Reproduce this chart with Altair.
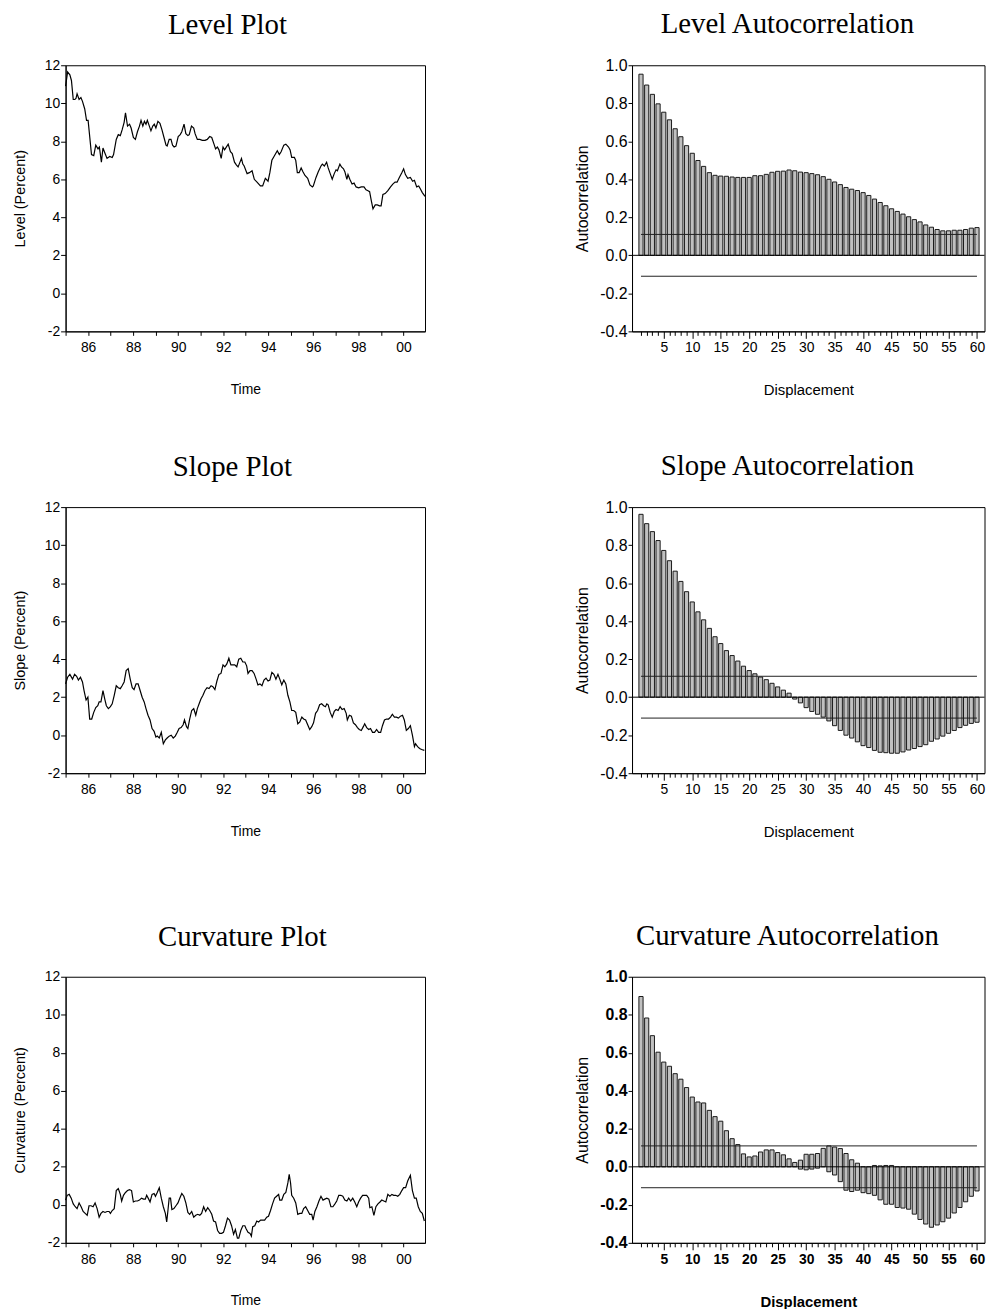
import altair as alt
import pandas as pd

# ---------------- data ----------------
# time in years since Jan 1985, values in percent
LEVEL_T = [0.00, 0.09, 0.19, 0.26, 0.34, 0.41, 0.46, 0.51, 0.60, 0.68,
           0.75, 0.85, 0.93, 1.00, 1.15, 1.25, 1.34, 1.44, 1.50, 1.59,
           1.66, 1.74, 1.84, 1.96, 2.07, 2.13, 2.25, 2.34, 2.43, 2.51,
           2.60, 2.66, 2.75, 2.84, 2.91, 3.01, 3.10, 3.19, 3.28, 3.35,
           3.43, 3.50, 3.57, 3.63, 3.72, 3.79, 3.87, 3.94, 4.01, 4.10,
           4.19, 4.28, 4.37, 4.46, 4.51, 4.60, 4.68, 4.75, 4.82, 4.90,
           5.00, 5.09, 5.16, 5.26, 5.34, 5.43, 5.49, 5.59, 5.69, 5.75,
           5.85, 5.96, 6.07, 6.19, 6.29, 6.40, 6.49, 6.59, 6.66, 6.74,
           6.81, 6.91, 6.99, 7.06, 7.22, 7.32, 7.40, 7.50, 7.59, 7.66,
           7.81, 7.87, 7.93, 8.06, 8.16, 8.28, 8.38, 8.50, 8.65, 8.75,
           8.87, 8.99, 9.07, 9.16, 9.28, 9.40, 9.49, 9.57, 9.69, 9.78,
           9.90, 9.97, 10.04, 10.16, 10.22, 10.29, 10.37, 10.46, 10.54, 10.63,
           10.75, 10.85, 10.96, 11.00, 11.12, 11.22, 11.34, 11.40, 11.49, 11.59,
           11.66, 11.75, 11.84, 11.93, 12.01, 12.07, 12.18, 12.25, 12.34, 12.40,
           12.49, 12.54, 12.62, 12.72, 12.81, 12.90, 13.01, 13.13, 13.25, 13.34,
           13.43, 13.50, 13.57, 13.65, 13.75, 13.84, 13.94, 14.01, 14.09, 14.19,
           14.31, 14.43, 14.53, 14.63, 14.72, 14.82, 14.93, 15.01, 15.09, 15.19,
           15.31, 15.41, 15.49, 15.59, 15.68, 15.75, 15.84, 15.96]
LEVEL_V = [10.9, 11.65, 11.5, 11.2, 10.2, 10.2, 10.25, 10.5, 10.2, 10.3,
           10.1, 9.7, 9.1, 9.1, 7.3, 7.25, 7.8, 7.6, 7.7, 6.9,
           7.65, 7.4, 7.1, 7.2, 7.15, 7.3, 8.1, 8.35, 8.3, 8.6,
           9.0, 9.5, 8.8, 8.9, 8.7, 8.2, 8.1, 8.5, 8.8, 9.1,
           8.8, 9.05, 8.9, 9.1, 8.8, 8.55, 8.8, 8.9, 8.7, 9.05,
           8.95, 8.6, 8.2, 7.8, 7.75, 8.1, 8.1, 7.8, 7.7, 7.75,
           8.25, 8.35, 8.5, 8.9, 8.4, 8.3, 8.35, 8.8, 8.7, 8.4,
           8.1, 8.1, 8.05, 8.05, 8.1, 8.25, 8.2, 7.85, 7.6, 7.7,
           7.55, 7.1, 7.7, 7.55, 7.85, 7.45, 7.35, 6.9, 6.75, 6.65,
           7.1, 6.8, 6.7, 6.3, 6.35, 6.45, 6.0, 5.85, 5.65, 5.65,
           6.05, 5.9, 6.35, 7.0, 7.25, 7.5, 7.3, 7.45, 7.8, 7.85,
           7.7, 7.55, 7.15, 7.15, 7.0, 6.35, 6.35, 6.6, 6.4, 6.2,
           6.05, 5.7, 5.6, 5.65, 6.1, 6.4, 6.7, 6.8, 6.7, 6.9,
           6.6, 6.3, 6.0, 6.3, 6.5, 6.45, 6.8, 6.65, 6.55, 6.4,
           6.0, 6.25, 6.0, 5.75, 5.8, 5.6, 5.55, 5.6, 5.6, 5.45,
           5.4, 5.35, 4.9, 4.45, 4.65, 4.65, 4.6, 4.6, 5.2, 5.25,
           5.4, 5.6, 5.75, 5.85, 5.85, 6.1, 6.35, 6.55, 6.25, 6.05,
           6.1, 5.9, 5.95, 5.6, 5.65, 5.5, 5.3, 5.1]

SLOPE_T = [0.00, 0.09, 0.19, 0.31, 0.40, 0.49, 0.57, 0.66, 0.75, 0.82,
           0.91, 0.99, 1.07, 1.16, 1.25, 1.34, 1.43, 1.49, 1.57, 1.66,
           1.74, 1.81, 1.90, 1.99, 2.07, 2.16, 2.25, 2.34, 2.43, 2.51,
           2.60, 2.69, 2.78, 2.87, 2.96, 3.04, 3.13, 3.22, 3.31, 3.40,
           3.49, 3.57, 3.66, 3.75, 3.84, 3.93, 4.01, 4.07, 4.16, 4.25,
           4.34, 4.43, 4.51, 4.60, 4.69, 4.78, 4.87, 4.96, 5.04, 5.13,
           5.22, 5.28, 5.37, 5.43, 5.51, 5.60, 5.69, 5.78, 5.85, 5.93,
           6.01, 6.10, 6.19, 6.28, 6.37, 6.46, 6.54, 6.63, 6.72, 6.81,
           6.90, 6.99, 7.07, 7.16, 7.25, 7.34, 7.43, 7.51, 7.60, 7.69,
           7.78, 7.87, 7.96, 8.04, 8.10, 8.19, 8.28, 8.37, 8.46, 8.54,
           8.63, 8.72, 8.81, 8.90, 8.99, 9.07, 9.16, 9.25, 9.34, 9.43,
           9.51, 9.60, 9.69, 9.78, 9.87, 9.96, 10.04, 10.13, 10.22, 10.31,
           10.40, 10.49, 10.57, 10.66, 10.75, 10.84, 10.93, 11.01, 11.10, 11.19,
           11.28, 11.37, 11.46, 11.54, 11.60, 11.66, 11.75, 11.84, 11.93, 12.01,
           12.10, 12.19, 12.28, 12.37, 12.46, 12.51, 12.60, 12.69, 12.78, 12.87,
           12.96, 13.04, 13.13, 13.22, 13.28, 13.37, 13.46, 13.54, 13.63, 13.72,
           13.81, 13.90, 13.99, 14.07, 14.16, 14.25, 14.34, 14.43, 14.51, 14.60,
           14.69, 14.78, 14.87, 14.96, 15.04, 15.13, 15.22, 15.31, 15.40, 15.49,
           15.54, 15.63, 15.72, 15.81, 15.93]
SLOPE_V = [2.7, 3.05, 3.2, 2.95, 3.2, 3.1, 2.9, 3.05, 2.8, 2.35,
           1.85, 2.0, 0.85, 0.85, 1.2, 1.45, 1.55, 1.75, 1.75, 2.35,
           1.9, 1.55, 1.4, 1.5, 1.65, 2.1, 2.6, 2.5, 2.45, 2.6,
           2.8, 3.4, 3.5, 2.95, 2.5, 2.4, 2.7, 2.7, 2.35, 2.0,
           1.75, 1.4, 1.05, 0.8, 0.35, 0.2, -0.1, -0.05, -0.15, 0.15,
           -0.45, -0.25, -0.15, -0.05, 0.0, -0.15, -0.05, 0.15, 0.35, 0.4,
           0.55, 0.8, 0.45, 0.35, 0.85, 1.3, 1.4, 1.05, 1.4, 1.65,
           1.9, 2.1, 2.35, 2.5, 2.45, 2.6, 2.55, 2.4, 2.85, 3.2,
           3.25, 3.7, 3.6, 3.75, 4.05, 3.7, 3.7, 3.7, 3.6, 4.0,
           4.05, 3.85, 3.85, 3.65, 3.25, 3.4, 3.4, 3.25, 2.95, 2.65,
           2.7, 2.6, 2.9, 3.0, 2.85, 2.9, 3.3, 3.2, 2.95, 3.2,
           2.95, 2.65, 2.9, 2.7, 2.1, 1.75, 1.3, 1.3, 1.2, 0.6,
           0.7, 0.95, 0.85, 0.8, 0.55, 0.3, 0.45, 0.65, 1.15, 1.3,
           1.6, 1.65, 1.55, 1.5, 1.65, 1.6, 1.2, 0.95, 1.25, 1.35,
           1.3, 1.5, 1.35, 1.4, 1.15, 0.8, 1.05, 1.0, 0.65, 0.55,
           0.4, 0.3, 0.25, 0.45, 0.6, 0.4, 0.3, 0.35, 0.15, 0.15,
           0.3, 0.15, 0.15, 0.5, 0.8, 0.85, 0.85, 0.95, 1.1, 0.95,
           0.95, 0.9, 1.0, 1.05, 0.8, 0.25, 0.35, 0.5, 0.0, -0.6,
           -0.45, -0.6, -0.7, -0.75, -0.8]

CURV_T = [0.00, 0.07, 0.16, 0.25, 0.34, 0.43, 0.51, 0.60, 0.69, 0.78,
          0.87, 0.96, 1.04, 1.13, 1.22, 1.31, 1.40, 1.49, 1.57, 1.66,
          1.75, 1.84, 1.93, 1.99, 2.07, 2.16, 2.25, 2.34, 2.43, 2.49,
          2.57, 2.66, 2.75, 2.84, 2.93, 3.01, 3.10, 3.19, 3.28, 3.37,
          3.46, 3.54, 3.60, 3.69, 3.75, 3.84, 3.93, 3.99, 4.07, 4.16,
          4.25, 4.34, 4.43, 4.49, 4.54, 4.60, 4.66, 4.72, 4.81, 4.90,
          4.99, 5.07, 5.16, 5.25, 5.34, 5.43, 5.51, 5.60, 5.69, 5.78,
          5.87, 5.96, 6.04, 6.13, 6.22, 6.31, 6.40, 6.49, 6.57, 6.66,
          6.75, 6.84, 6.93, 7.01, 7.10, 7.19, 7.28, 7.37, 7.46, 7.54,
          7.63, 7.69, 7.78, 7.87, 7.96, 8.01, 8.10, 8.19, 8.25, 8.31,
          8.40, 8.49, 8.57, 8.66, 8.75, 8.84, 8.93, 9.01, 9.10, 9.19,
          9.28, 9.37, 9.46, 9.51, 9.60, 9.69, 9.78, 9.87, 9.93, 9.99,
          10.04, 10.13, 10.22, 10.31, 10.40, 10.49, 10.57, 10.66, 10.75, 10.84,
          10.93, 10.99, 11.07, 11.16, 11.25, 11.34, 11.43, 11.51, 11.60, 11.69,
          11.78, 11.87, 11.96, 12.04, 12.13, 12.22, 12.31, 12.40, 12.49, 12.57,
          12.66, 12.75, 12.84, 12.93, 13.01, 13.10, 13.19, 13.28, 13.37, 13.46,
          13.51, 13.60, 13.69, 13.78, 13.87, 13.96, 14.04, 14.13, 14.22, 14.31,
          14.40, 14.49, 14.57, 14.66, 14.75, 14.84, 14.93, 15.01, 15.10, 15.19,
          15.31, 15.40, 15.49, 15.57, 15.66, 15.75, 15.84, 15.93]
CURV_V = [0.25, 0.5, 0.55, 0.35, 0.05, -0.1, -0.2, 0.1, -0.1, -0.35,
          -0.45, -0.55, -0.05, -0.05, -0.1, 0.1, -0.2, -0.65, -0.45, -0.35,
          -0.4, -0.35, -0.35, -0.45, -0.3, -0.2, 0.75, 0.85, 0.55, 0.2,
          0.5, 0.65, 0.75, 0.8, 0.75, 0.15, 0.2, 0.2, 0.25, 0.35,
          0.3, 0.3, 0.5, 0.3, 0.15, 0.55, 0.6, 0.45, 0.65, 0.9,
          0.35, -0.1, -0.45, -0.9, -0.35, 0.35, 0.35, -0.25, -0.2, -0.05,
          0.1, 0.35, 0.6, 0.45, 0.1, -0.4, -0.5, -0.35, -0.65, -0.55,
          -0.5, -0.55, -0.45, -0.1, -0.35, -0.15, -0.3, -0.5, -0.85, -0.9,
          -1.35, -1.5, -1.5, -1.45, -1.1, -0.7, -0.8, -1.1, -1.55, -1.3,
          -1.75, -1.75, -1.35, -1.1, -1.1, -1.25, -1.45, -1.5, -1.65, -1.15,
          -1.1, -0.85, -0.9, -0.8, -0.8, -0.8, -0.65, -0.6, -0.3, 0.05,
          0.35, 0.45, 0.55, 0.25, 0.25, 0.55, 0.65, 1.15, 1.6, 1.15,
          0.5, 0.35, 0.1, -0.5, -0.45, -0.45, -0.2, -0.1, -0.3, -0.5,
          -0.5, -0.8, -0.35, -0.1, 0.2, 0.45, 0.25, 0.3, 0.35, 0.3,
          -0.1, -0.1, 0.05, 0.2, 0.5, 0.5, 0.45, 0.25, 0.2, 0.35,
          0.2, 0.35, 0.15, -0.1, 0.15, 0.35, 0.5, 0.5, 0.5, 0.35,
          -0.15, -0.1, -0.55, -0.1, 0.05, 0.15, 0.25, 0.2, 0.15, 0.55,
          0.45, 0.55, 0.5, 0.5, 0.45, 0.55, 0.75, 0.9, 0.9, 1.25,
          1.55, 0.75, 0.35, 0.35, -0.1, -0.35, -0.45, -0.85]

# autocorrelations, displacements 1..60 (bar tops; bar bottoms are 0 unless listed)
LEVEL_ACF = [0.953, 0.896, 0.847, 0.797, 0.753, 0.713, 0.666, 0.624, 0.577, 0.537,
             0.499, 0.468, 0.435, 0.421, 0.417, 0.416, 0.412, 0.410, 0.410, 0.410,
             0.419, 0.419, 0.426, 0.437, 0.442, 0.443, 0.449, 0.445, 0.438, 0.435,
             0.430, 0.424, 0.414, 0.400, 0.386, 0.372, 0.357, 0.348, 0.341, 0.330,
             0.315, 0.296, 0.278, 0.261, 0.245, 0.231, 0.217, 0.203, 0.188, 0.176,
             0.160, 0.148, 0.136, 0.129, 0.129, 0.132, 0.132, 0.136, 0.143, 0.146]
SLOPE_ACF = [0.962, 0.913, 0.871, 0.824, 0.772, 0.718, 0.663, 0.609, 0.555, 0.501,
             0.449, 0.407, 0.362, 0.318, 0.282, 0.245, 0.219, 0.190, 0.163, 0.140,
             0.123, 0.106, 0.092, 0.073, 0.054, 0.037, 0.021, -0.010, -0.030, -0.055,
             -0.075, -0.090, -0.105, -0.125, -0.150, -0.175, -0.200, -0.215, -0.235, -0.255,
             -0.265, -0.280, -0.290, -0.292, -0.295, -0.295, -0.288, -0.278, -0.270, -0.260,
             -0.250, -0.232, -0.220, -0.205, -0.190, -0.175, -0.160, -0.148, -0.138, -0.132]
# curvature bars reach both sides of zero at some displacements in the picture
CURV_ACF_HI = [0.896, 0.783, 0.690, 0.603, 0.551, 0.529, 0.490, 0.461, 0.417, 0.367,
               0.341, 0.336, 0.297, 0.264, 0.240, 0.190, 0.148, 0.117, 0.068, 0.052,
               0.057, 0.078, 0.089, 0.089, 0.075, 0.063, 0.042, 0.023, 0.035, 0.066,
               0.066, 0.070, 0.097, 0.110, 0.104, 0.096, 0.070, 0.037, 0.019, 0.0,
               0.0, 0.007, 0.005, 0.007, 0.007, 0.0, 0.0, 0.0, 0.0, 0.0,
               0.0, 0.0, 0.0, 0.0, 0.0, 0.0, 0.0, 0.0, 0.0, 0.0]
CURV_ACF_LO = [0.0, 0.0, 0.0, 0.0, 0.0, 0.0, 0.0, 0.0, 0.0, 0.0,
               0.0, 0.0, 0.0, 0.0, 0.0, 0.0, 0.0, 0.0, 0.0, 0.0,
               0.0, 0.0, 0.0, 0.0, 0.0, 0.0, 0.0, 0.0, -0.012, -0.016,
               -0.012, -0.007, 0.0, -0.026, -0.043, -0.078, -0.123, -0.130, -0.123, -0.136,
               -0.141, -0.150, -0.174, -0.197, -0.197, -0.214, -0.217, -0.223, -0.249, -0.277,
               -0.301, -0.318, -0.306, -0.289, -0.270, -0.243, -0.214, -0.184, -0.155, -0.127]
BAND = 0.11

YEARS = list(range(1985, 2001))
LAGS = list(range(1, 61))
Y_TICKS = [-2, 0, 2, 4, 6, 8, 10, 12]
ACF_TICKS = [-0.4, -0.2, 0.0, 0.2, 0.4, 0.6, 0.8, 1.0]

SANS = "Liberation Sans"
SERIF = "Liberation Serif"
TIME_W, H, ACF_W = 362, 268, 355


def ttl(text, dx, off):
    return alt.TitleParams(text=text, font=SERIF, fontSize=29, fontWeight="normal",
                           color="black", anchor="middle", frame="group",
                           baseline="alphabetic", offset=off, dx=dx)


def time_panel(t, v, name, ytitle, dx):
    df = pd.DataFrame({"year": [1985 + x for x in t], "value": v})
    return alt.Chart(df, title=ttl(name, dx, -5)).mark_line(
        color="black", strokeWidth=1.2
    ).encode(
        x=alt.X("year:Q",
                scale=alt.Scale(domain=[1985, 2000.96], nice=False, zero=False),
                axis=alt.Axis(values=YEARS, tickCount=200,
                              labelExpr="datum.value % 2 === 0 ? ((datum.value % 100) < 10 ? '0' : '') + (datum.value % 100) : ''",
                              tickSize=4, labelPadding=16.5, labelBaseline="alphabetic",
                              labelFontSize=14, labelOverlap=False, title="Time", titleFontSize=14,
                              titleY=62.5, titleBaseline="alphabetic")),
        y=alt.Y("value:Q",
                scale=alt.Scale(domain=[-2, 12], nice=False, zero=False),
                axis=alt.Axis(values=Y_TICKS, tickCount=200,
                              labelExpr="datum.value < 0 ? '-' + (-datum.value) : '' + datum.value",
                              tickSize=5, labelPadding=1, labelFontSize=14, labelOverlap=False,
                              title=ytitle, titleFontSize=14.5, titleX=-41.5,
                              titleBaseline="alphabetic")),
    ).properties(width=TIME_W, height=H)


def acf_panel(tops, bottoms, name, bold=False):
    df = pd.DataFrame({"lag": LAGS, "top": tops, "bottom": bottoms})
    wt = "bold" if bold else "normal"
    xscale = alt.Scale(domain=[0.3, 60.45], nice=False, zero=False)
    yscale = alt.Scale(domain=[-0.4, 1.0], nice=False)
    bars = alt.Chart(df).mark_bar(size=4.2, fill="#c0c0c0", stroke="#1a1a1a",
                                  strokeWidth=1).encode(
        x=alt.X("lag:Q", scale=xscale,
                axis=alt.Axis(values=LAGS, tickCount=200,
                              labelExpr="datum.value % 5 === 0 ? '' + datum.value : ''",
                              tickSize={"condition": {"test": "datum.value % 5 === 0", "value": 7}, "value": 4},
                              labelPadding=13.5, labelBaseline="alphabetic", labelOverlap=False,
                              labelFontSize=14, labelFontWeight=wt,
                              title="Displacement", titleFontSize=15, titleFontWeight=wt,
                              titleY=64, titleBaseline="alphabetic")),
        y=alt.Y("top:Q", scale=yscale,
                axis=alt.Axis(values=ACF_TICKS, tickCount=200,
                              labelExpr="datum.value < 0 ? '-' + format(-datum.value, '.1f') : format(datum.value, '.1f')",
                              tickSize=4, labelPadding=1, labelFontSize=16, labelFontWeight=wt,
                              labelOverlap=False,
                              title="Autocorrelation", titleFontSize=16,
                              titleX=-44.5, titleBaseline="alphabetic")),
        y2="bottom:Q",
    )
    band_df = pd.DataFrame({"b": [BAND, -BAND]})
    band = alt.Chart(band_df).mark_rule(color="#202020", strokeWidth=1).encode(
        y="b:Q", x=alt.datum(1), x2=alt.datum(60))
    zero = alt.Chart(pd.DataFrame({"z": [0.0]})).mark_rule(color="black", strokeWidth=1).encode(
        y="z:Q", x=alt.value(0), x2=alt.value(ACF_W))
    return alt.layer(bars, band, zero, title=ttl(name, -21, -5)).properties(width=ACF_W, height=H)


def spacer(h):
    return alt.Chart(pd.DataFrame({"s": [0]})).mark_point(opacity=0).encode(
        x=alt.value(0), y=alt.value(0)
    ).properties(width=10, height=h, view=alt.ViewBackground(strokeOpacity=0))


def split(vals):
    return [max(v, 0.0) for v in vals], [min(v, 0.0) for v in vals]


lv_top, lv_bot = split(LEVEL_ACF)
sl_top, sl_bot = split(SLOPE_ACF)

cells = [
    time_panel(LEVEL_T, LEVEL_V, "Level Plot", "Level (Percent)", -18),
    acf_panel(lv_top, lv_bot, "Level Autocorrelation"),
    spacer(177), spacer(177),
    time_panel(SLOPE_T, SLOPE_V, "Slope Plot", "Slope (Percent)", -13),
    acf_panel(sl_top, sl_bot, "Slope Autocorrelation"),
    spacer(204.5), spacer(204.5),
    time_panel(CURV_T, CURV_V, "Curvature Plot", "Curvature (Percent)", -3),
    acf_panel(CURV_ACF_HI, CURV_ACF_LO, "Curvature Autocorrelation", bold=True),
]

chart = alt.concat(*cells, columns=2, spacing={"row": 0, "column": 208.5},
                   bounds="flush").properties(
    padding={"left": 4, "top": -3, "right": 0, "bottom": 0}
).configure_view(
    stroke="black", strokeWidth=1
).configure_axis(
    grid=False, domainColor="black", tickColor="black", labelColor="black",
    titleColor="black", labelFont=SANS, titleFont=SANS, titleFontWeight="normal",
    labelFlush=False, labelOverlap=False, labelBound=False, domainWidth=1, tickWidth=1
)

chart.save("out.html", embed_options={"renderer": "svg", "actions": False})
